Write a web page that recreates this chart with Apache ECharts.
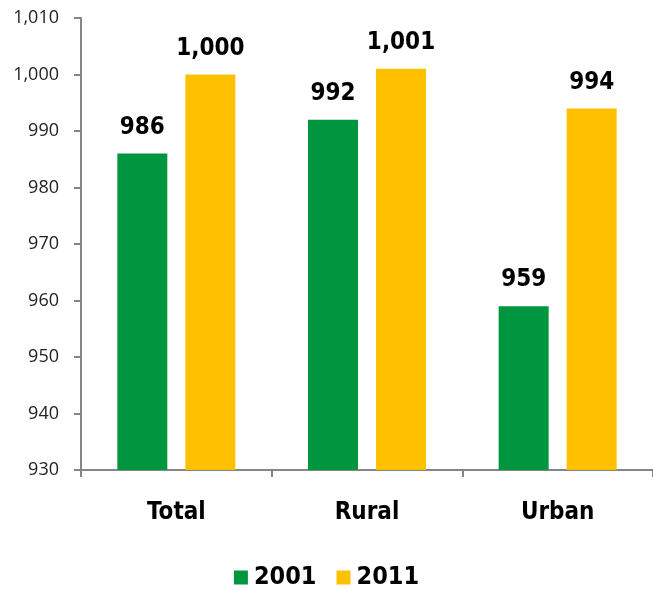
<!DOCTYPE html>
<html><head><meta charset="utf-8">
<script src="https://cdn.jsdelivr.net/npm/echarts@6/dist/echarts.min.js"></script>
<style>html,body{margin:0;padding:0;background:#fff}#c{width:653px;height:590px}</style>
</head><body><div id="c"></div>
<script>
var categories = ["Total", "Rural", "Urban"];
var values2001 = [986, 992, 959];
var values2011 = [1000, 1001, 994];
var seriesNames = ["2001", "2011"];
var narrow = '"Liberation Sans Narrow", "DejaVu Sans Condensed", "Arial Narrow", sans-serif';
var chart = echarts.init(document.getElementById('c'));
var lbl = {show: true, position: 'top', distance: 14, fontFamily: narrow, fontWeight: 'bold', fontSize: 24, color: '#000',
  formatter: function(p){ return p.value.toLocaleString('en-US'); }};
chart.setOption({
  animation: false,
  grid: {left: 81, right: 0, top: 18, bottom: 120, containLabel: false},
  legend: {top: 560, left: 'center', itemWidth: 14, itemHeight: 14, itemGap: 20,
    textStyle: {fontFamily: narrow, fontWeight: 'bold', fontSize: 25, color: '#000', padding: [0, 0, 0, 1]},
    icon: 'rect', data: seriesNames},
  xAxis: {type: 'category', data: categories,
    axisLine: {lineStyle: {color: '#868686', width: 2}},
    axisTick: {show: true, length: 7, lineStyle: {color: '#868686', width: 2}},
    axisLabel: {fontFamily: narrow, fontWeight: 'bold', fontSize: 24, color: '#000', margin: 31}},
  yAxis: {type: 'value', min: 930, max: 1010, interval: 10,
    splitLine: {show: false},
    axisLine: {show: true, lineStyle: {color: '#868686', width: 2}},
    axisTick: {show: true, length: 7, inside: false, lineStyle: {color: '#868686', width: 2}},
    axisLabel: {fontFamily: '"Open Sans", "Noto Sans", sans-serif', fontSize: 18, color: '#222', margin: 22,
      formatter: function(v){ return v.toLocaleString('en-US'); }}},
  series: [
    {name: seriesNames[0], type: 'bar', data: values2001, barWidth: 50, barGap: '36%', itemStyle: {color: '#00963F'}, label: lbl},
    {name: seriesNames[1], type: 'bar', data: values2011, barWidth: 50, itemStyle: {color: '#FFC000'}, label: lbl}
  ]
});
</script></body></html>
